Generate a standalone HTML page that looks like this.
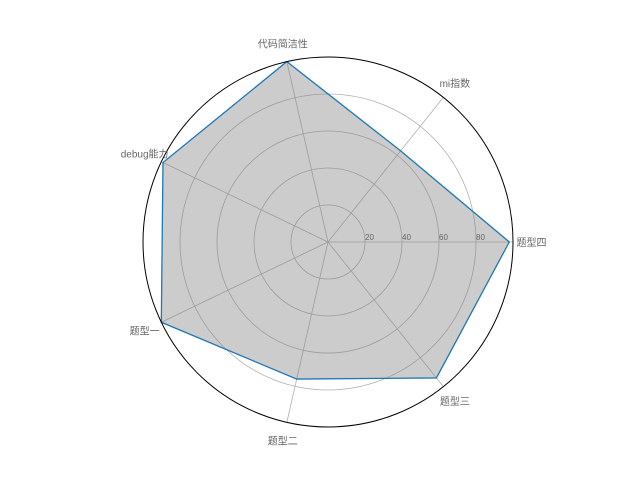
<!DOCTYPE html>
<html><head><meta charset="utf-8"><style>
body{margin:0;background:#fff}
svg text{font-family:"Liberation Sans","Noto Sans CJK SC",sans-serif;fill:#666}
</style></head><body>
<svg id="chart" width="640" height="480" xmlns="http://www.w3.org/2000/svg"></svg>
<script>
const categories=["题型四","mi指数","代码简洁性","debug能力","题型一","题型二","题型三"];
const values=[98,63,100,99,100,76,94];
const ringTicks=[20,40,60,80];
const NS="http://www.w3.org/2000/svg";
const svg=document.getElementById('chart');
const cx=328,cy=242,R=185,maxV=100;
function ang(i){return i*2*Math.PI/categories.length;}
function px(v,i){return cx+v/maxV*R*Math.cos(ang(i));}
function py(v,i){return cy-v/maxV*R*Math.sin(ang(i));}
function mk(t,a){const e=document.createElementNS(NS,t);for(const k in a)e.setAttribute(k,a[k]);svg.appendChild(e);return e;}
ringTicks.forEach(t=>{
  const c=mk('circle',{cx:cx,cy:cy,r:t/maxV*R,fill:'none',stroke:'#b0b0b0','stroke-width':0.8});
  
  
});
categories.forEach((c,i)=>{
  const l=mk('line',{x1:cx,y1:cy,x2:px(maxV,i),y2:py(maxV,i),stroke:'#b0b0b0','stroke-width':0.8});
  
  
});
const pts=values.map((v,i)=>px(v,i)+','+py(v,i)).join(' ');
const poly=mk('polygon',{points:pts,fill:'rgba(128,128,128,0.4)',stroke:'#1f77b4','stroke-width':1.3});


const outer=mk('circle',{cx:cx,cy:cy,r:R,fill:'none',stroke:'#000','stroke-width':1});


ringTicks.forEach(t=>{
  const tx=mk('text',{x:cx+t/maxV*R,y:cy-2,'font-size':8});
  tx.textContent=t;
  
  
});
categories.forEach((c,i)=>{
  const tx=mk('text',{x:px(maxV*1.1,i),y:py(maxV*1.1,i)+4,'font-size':10,'text-anchor':'middle'});
  tx.textContent=c;
  
  
});
</script>
</body></html>
